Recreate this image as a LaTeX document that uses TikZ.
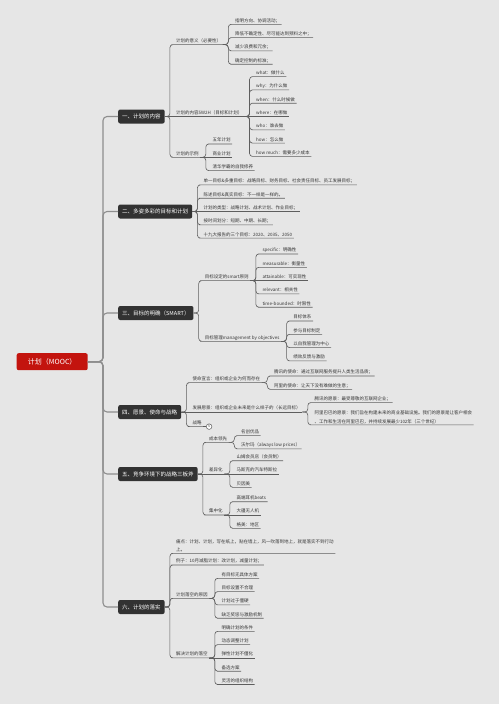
\documentclass[tikz,border=0pt]{standalone}
\usepackage{fontspec}
\setmainfont{Noto Sans CJK SC}
\definecolor{bg}{HTML}{E6E6E6}
\definecolor{txt}{HTML}{363636}
\definecolor{ln}{HTML}{5E5E5E}
\definecolor{trk}{HTML}{8E8E8E}
\definecolor{boxc}{HTML}{323232}
\definecolor{rootc}{HTML}{C3140E}
\newcommand\leaffont{\fontsize{4.5pt}{8.3pt}\selectfont}
\newcommand\boxfont{\fontsize{5.5pt}{6.6pt}\selectfont}
\tikzset{
 leafbase/.style={anchor=south west, inner xsep=1.5pt, inner ysep=1pt, font=\leaffont, text=txt},
 leaf/.style={leafbase, text height=3.6pt, text depth=0.9pt},
 leafml/.style={leafbase, align=left},
 topic/.style={anchor=west, fill=boxc, text=white, font=\boxfont, rounded corners=2pt, minimum height=14pt, inner xsep=4pt, inner ysep=0pt},
 rootbox/.style={fill=rootc, text=white, font=\fontsize{7pt}{8pt}\selectfont, rounded corners=2pt, minimum width=71pt, minimum height=17pt},
 conn/.style={draw=ln, line width=0.6pt, rounded corners=3pt},
 trunk/.style={draw=trk, line width=1.1pt, rounded corners=4pt},
 fold/.style={circle, draw=ln, fill=white, line width=0.5pt, minimum size=5.6pt, inner sep=0pt, font=\fontsize{3.6pt}{4pt}\selectfont, text=txt}
}
\begin{document}
\begin{tikzpicture}[x=1pt,y=-1pt]
\fill[bg] (0,0) rectangle (499,704);
\useasboundingbox (0,0) rectangle (499,704);

% root and main topics
\node[rootbox] (root) at (52.2,361.7) {计划（MOOC）};
\node[topic] (b1) at (118,116.5) {一、计划的内容};
\node[topic] (b2) at (118,211.5) {二、多姿多彩的目标和计划};
\node[topic] (b3) at (118,313) {三、目标的明确（SMART）};
\node[topic] (b4) at (118,412) {四、愿景、使命与战略};
\node[topic] (b5) at (118,474) {五、竞争环境下的战略三板斧};
\node[topic] (b6) at (118,607) {六、计划的落实};
\coordinate (tk) at (103,0);
\foreach \bb in {b1,b2,b3,b4,b5,b6}
  \draw[trunk] (root.east) -- (root.east -| tk) |- (\bb.west);

% ---------- section 1
\coordinate (b1x) at ([xshift=9.5pt]b1.east);
\node[leaf] (s11) at (b1x |- 0,44.6) {计划的意义（必要性）};
\node[leaf] (s12) at (b1x |- 0,116.5) {计划的内容5W2H（目标和计划）};
\node[leaf] (s13) at (b1x |- 0,157.3) {计划的示例};
\draw[conn] (b1.east) -- ++(5,0) |- (s11.south west) -- (s11.south east);
\draw[conn] (b1.east) -- (s12.south east);
\draw[conn] (b1.east) -- ++(5,0) |- (s13.south west) -- (s13.south east);

\coordinate (s11x) at ([xshift=10.5pt]s11.south east);
\node[leaf] (s11a) at (s11x |- 0,24.3) {指明方向、协调活动；};
\node[leaf] (s11b) at (s11x |- 0,37.6) {降低不确定性、尽可能达到预料之中；};
\node[leaf] (s11c) at (s11x |- 0,50.9) {减少浪费和冗余；};
\node[leaf] (s11d) at (s11x |- 0,64.2) {确定控制的标准；};
\foreach \ch in {s11a,s11b,s11c,s11d}
  \draw[conn] (s11.south east) -- ++(5.5,0) |- (\ch.south west) -- (\ch.south east);

\coordinate (s12x) at ([xshift=10.5pt]s12.south east);
\node[leaf] (s12a) at (s12x |- 0,76.6) {what：做什么};
\node[leaf] (s12b) at (s12x |- 0,89.9) {why：为什么做};
\node[leaf] (s12c) at (s12x |- 0,103.2) {when：什么时候做};
\node[leaf] (s12d) at (s12x |- 0,116.5) {where：在哪做};
\node[leaf] (s12e) at (s12x |- 0,129.8) {who：谁去做};
\node[leaf] (s12f) at (s12x |- 0,143.1) {how：怎么做};
\node[leaf] (s12g) at (s12x |- 0,156.4) {how much：需要多少成本};
\foreach \ch in {s12a,s12b,s12c,s12e,s12f,s12g}
  \draw[conn] (s12.south east) -- ++(5.5,0) |- (\ch.south west) -- (\ch.south east);
\draw[conn] (s12.south east) -- (s12d.south east);

\coordinate (s13x) at ([xshift=10.5pt]s13.south east);
\node[leaf] (s13a) at (s13x |- 0,144) {五年计划};
\node[leaf] (s13b) at (s13x |- 0,157.3) {商业计划};
\node[leaf] (s13c) at (s13x |- 0,170.6) {清华学霸的自我修养};
\foreach \ch in {s13a,s13c}
  \draw[conn] (s13.south east) -- ++(5.5,0) |- (\ch.south west) -- (\ch.south east);
\draw[conn] (s13.south east) -- (s13b.south east);

% ---------- section 2
\coordinate (b2x) at ([xshift=9.5pt]b2.east);
\node[leaf] (s21) at (b2x |- 0,184.9) {单一目标\&多重目标：战略目标、财务目标、社会责任目标、员工发展目标；};
\node[leaf] (s22) at (b2x |- 0,198.2) {陈述目标\&真实目标：不一样是一样的。};
\node[leaf] (s23) at (b2x |- 0,211.5) {计划的类型：战略计划、战术计划、作业目标；};
\node[leaf] (s24) at (b2x |- 0,224.8) {按时间划分：短期、中期、长期；};
\node[leaf] (s25) at (b2x |- 0,238.1) {十九大报告的三个目标：2020、2035、2050};
\foreach \ch in {s21,s22,s24,s25}
  \draw[conn] (b2.east) -- ++(5,0) |- (\ch.south west) -- (\ch.south east);
\draw[conn] (b2.east) -- (s23.south east);

% ---------- section 3
\coordinate (b3x) at ([xshift=9.5pt]b3.east);
\node[leaf] (s31) at (b3x |- 0,280.6) {目标设定的smart原则};
\node[leaf] (s32) at (b3x |- 0,341.3) {目标管理management by objectives};
\foreach \ch in {s31,s32}
  \draw[conn] (b3.east) -- ++(5,0) |- (\ch.south west) -- (\ch.south east);

\coordinate (s31x) at ([xshift=10.5pt]s31.south east);
\node[leaf] (s31a) at (s31x |- 0,254) {specific：明确性};
\node[leaf] (s31b) at (s31x |- 0,267.3) {measurable：衡量性};
\node[leaf] (s31c) at (s31x |- 0,280.6) {attainable：可实现性};
\node[leaf] (s31d) at (s31x |- 0,293.9) {relevant：相关性};
\node[leaf] (s31e) at (s31x |- 0,307.2) {time-bounded：时限性};
\foreach \ch in {s31a,s31b,s31d,s31e}
  \draw[conn] (s31.south east) -- ++(5.5,0) |- (\ch.south west) -- (\ch.south east);
\draw[conn] (s31.south east) -- (s31c.south east);

\coordinate (s32x) at ([xshift=10.5pt]s32.south east);
\node[leaf] (s32a) at (s32x |- 0,321) {目标体系};
\node[leaf] (s32b) at (s32x |- 0,334.3) {参与目标制定};
\node[leaf] (s32c) at (s32x |- 0,347.6) {以自我管理为中心};
\node[leaf] (s32d) at (s32x |- 0,360.9) {绩效反馈与激励};
\foreach \ch in {s32a,s32b,s32c,s32d}
  \draw[conn] (s32.south east) -- ++(5.5,0) |- (\ch.south west) -- (\ch.south east);

% ---------- section 4
\coordinate (b4x) at ([xshift=9.5pt]b4.east);
\node[leaf] (s41) at (b4x |- 0,382.6) {使命宣言：组织或企业为何而存在};
\node[leaf] (s42) at (b4x |- 0,412) {发展愿景：组织或企业未来是什么样子的（长远目标）};
\node[leaf] (s43) at (b4x |- 0,426.6) {战略};
\foreach \ch in {s41,s43}
  \draw[conn] (b4.east) -- ++(5,0) |- (\ch.south west) -- (\ch.south east);
\draw[conn] (b4.east) -- (s42.south east);
\node[fold] (f43) at ([xshift=5.8pt]s43.south east) {5};
\draw[conn] (s43.south east) -- (f43.west);

\coordinate (s41x) at ([xshift=10.5pt]s41.south east);
\node[leaf] (s41a) at (s41x |- 0,376) {腾讯的使命：通过互联网服务提升人类生活品质；};
\node[leaf] (s41b) at (s41x |- 0,389.3) {阿里的使命：让天下没有难做的生意；};
\foreach \ch in {s41a,s41b}
  \draw[conn] (s41.south east) -- ++(5.5,0) |- (\ch.south west) -- (\ch.south east);

\coordinate (s42x) at ([xshift=10.5pt]s42.south east);
\node[leaf] (s42a) at (s42x |- 0,402.6) {腾讯的愿景：最受尊敬的互联网企业；};
\node[leafml] (s42b) at (s42x |- 0,424.8) {阿里巴巴的愿景：我们旨在构建未来的商业基础设施。我们的愿景是让客户相会\\、工作和生活在阿里巴巴，并持续发展最少102年（三个世纪）};
\foreach \ch in {s42a,s42b}
  \draw[conn] (s42.south east) -- ++(5.5,0) |- (\ch.south west) -- (\ch.south east);

% ---------- section 5
\coordinate (b5x) at ([xshift=9.5pt]b5.east);
\node[leaf] (s51) at (b5x |- 0,442.3) {成本领先};
\node[leaf] (s52) at (b5x |- 0,474) {差异化};
\node[leaf] (s53) at (b5x |- 0,515) {集中化};
\foreach \ch in {s51,s53}
  \draw[conn] (b5.east) -- ++(5,0) |- (\ch.south west) -- (\ch.south east);
\draw[conn] (b5.east) -- (s52.south east);

\coordinate (s51x) at ([xshift=10.5pt]s51.south east);
\node[leaf] (s51a) at (s51x |- 0,435.6) {名创优品};
\node[leaf] (s51b) at (s51x |- 0,448.9) {沃尔玛（always low prices）};
\foreach \ch in {s51a,s51b}
  \draw[conn] (s51.south east) -- ++(5.5,0) |- (\ch.south west) -- (\ch.south east);

\coordinate (s52x) at ([xshift=10.5pt]s52.south east);
\node[leaf] (s52a) at (s52x |- 0,460.7) {山姆会员店（会员制）};
\node[leaf] (s52b) at (s52x |- 0,474) {马斯克的汽车特斯拉};
\node[leaf] (s52c) at (s52x |- 0,487.3) {贝因美};
\foreach \ch in {s52a,s52c}
  \draw[conn] (s52.south east) -- ++(5.5,0) |- (\ch.south west) -- (\ch.south east);
\draw[conn] (s52.south east) -- (s52b.south east);

\coordinate (s53x) at ([xshift=10.5pt]s53.south east);
\node[leaf] (s53a) at (s53x |- 0,501.7) {高端耳机beats};
\node[leaf] (s53b) at (s53x |- 0,515) {大疆无人机};
\node[leaf] (s53c) at (s53x |- 0,528.3) {格美：地区};
\foreach \ch in {s53a,s53c}
  \draw[conn] (s53.south east) -- ++(5.5,0) |- (\ch.south west) -- (\ch.south east);
\draw[conn] (s53.south east) -- (s53b.south east);

% ---------- section 6
\coordinate (b6x) at ([xshift=9.5pt]b6.east);
\node[leafml] (s61) at (b6x |- 0,553.3) {痛点：计划、计划，写在纸上，贴在墙上，风一吹落到地上，就是落实不到行动\\上。};
\node[leaf] (s62) at (b6x |- 0,565) {例子：10月减脂计划：改计划，减量计划；};
\node[leaf] (s63) at (b6x |- 0,598.3) {计划落空的原因};
\node[leaf] (s64) at (b6x |- 0,657.9) {解决计划的落空};
\foreach \ch in {s61,s62,s63,s64}
  \draw[conn] (b6.east) -- ++(5,0) |- (\ch.south west) -- (\ch.south east);

\coordinate (s63x) at ([xshift=10.5pt]s63.south east);
\node[leaf] (s63a) at (s63x |- 0,578.3) {有目标无具体方案};
\node[leaf] (s63b) at (s63x |- 0,591.6) {目标设置不合理};
\node[leaf] (s63c) at (s63x |- 0,604.9) {计划过于僵硬};
\node[leaf] (s63d) at (s63x |- 0,618.2) {缺乏奖惩与激励机制};
\foreach \ch in {s63a,s63b,s63c,s63d}
  \draw[conn] (s63.south east) -- ++(5.5,0) |- (\ch.south west) -- (\ch.south east);

\coordinate (s64x) at ([xshift=10.5pt]s64.south east);
\node[leaf] (s64a) at (s64x |- 0,631.3) {明确计划的条件};
\node[leaf] (s64b) at (s64x |- 0,644.6) {动态调整计划};
\node[leaf] (s64c) at (s64x |- 0,657.9) {弹性计划不僵化};
\node[leaf] (s64d) at (s64x |- 0,671.2) {备选方案};
\node[leaf] (s64e) at (s64x |- 0,684.5) {灵活的组织结构};
\foreach \ch in {s64a,s64b,s64d,s64e}
  \draw[conn] (s64.south east) -- ++(5.5,0) |- (\ch.south west) -- (\ch.south east);
\draw[conn] (s64.south east) -- (s64c.south east);
\end{tikzpicture}
\end{document}
